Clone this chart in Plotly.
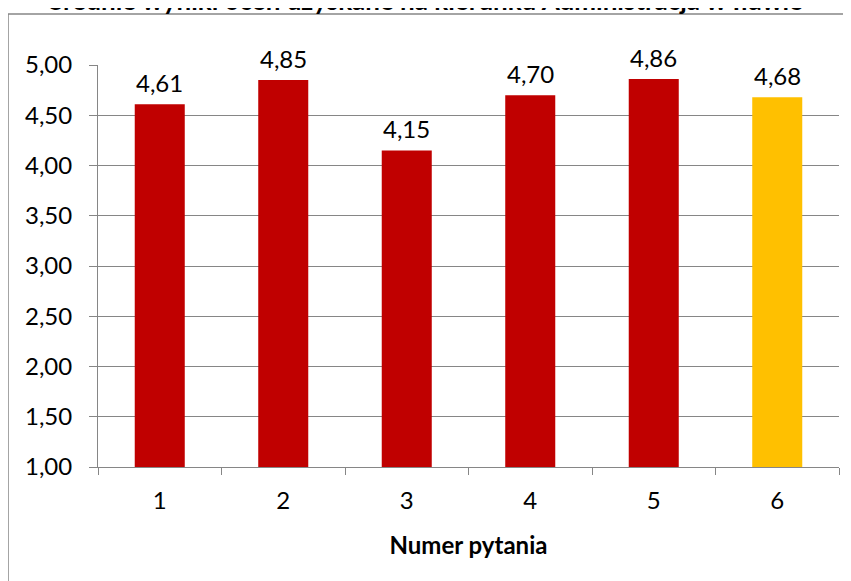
import plotly.graph_objects as go

categories = ["1", "2", "3", "4", "5", "6"]
values = [4.61, 4.85, 4.15, 4.70, 4.86, 4.68]
bar_colors = ["#C00000", "#C00000", "#C00000", "#C00000", "#C00000", "#FFC000"]
title_text = "Średnie wyniki ocen uzyskane na kierunku Administracja w Iławie"
x_title = "Numer pytania"
y_ticks = [1.0, 1.5, 2.0, 2.5, 3.0, 3.5, 4.0, 4.5, 5.0]

labels = [f"{v:.2f}".replace(".", ",") for v in values]
ytick_text = [f"{v:.2f}".replace(".", ",") for v in y_ticks]

FONT = "Lato, 'Open Sans', sans-serif"
# the page body has an 8px margin, so the figure is drawn 8px right/down
OFF = 8
W, H = 851 - OFF, 581 - OFF
L = 98 - OFF
R = W - (839 - OFF)
T = 65 - OFF
B = H - (467 - OFF)

fig = go.Figure(go.Bar(
    x=categories, y=values, marker=dict(color=bar_colors, line=dict(width=0)),
))

# category axis positions are the category indices
for i, (v, t) in enumerate(zip(values, labels)):
    fig.add_annotation(x=i, y=v, text=t, showarrow=False, yanchor="bottom",
                       yshift=5, font=dict(family=FONT, size=24, color="#000000"))

fig.update_layout(
    width=W, height=H, margin=dict(l=L, r=R, t=T, b=B),
    paper_bgcolor="white", plot_bgcolor="white",
    bargap=0.595, showlegend=False,
    font=dict(family=FONT, color="#000000"),
)
fig.update_xaxes(
    type="category", range=[-0.5, len(categories) - 0.5],
    tickson="boundaries", ticks="outside", ticklen=7,
    tickcolor="#868686", showline=True, linecolor="#868686", linewidth=1,
    tickfont=dict(family=FONT, size=24), ticklabelstandoff=12,
    title=dict(text=f"<b>{x_title}</b>", font=dict(family=FONT, size=24), standoff=24),
    showgrid=False,
)
fig.update_yaxes(
    range=[1, 5], tickvals=y_ticks, ticktext=ytick_text, ticks="outside", ticklen=8,
    tickcolor="#868686", showline=True, linecolor="#868686", linewidth=1,
    showgrid=True, gridcolor="#868686", gridwidth=1, zeroline=False,
    tickfont=dict(family=FONT, size=24), ticklabelstandoff=12,
)

pw, ph = W - L - R, H - T - B
def px_x(p): return (p - OFF - L) / pw
def px_y(p): return (H - B - (p - OFF)) / ph

fig.add_shape(type="rect", xref="paper", yref="paper",
              x0=px_x(8), x1=px_x(900), y0=px_y(640), y1=px_y(14),
              line=dict(color="#868686", width=1.5), fillcolor="rgba(0,0,0,0)", layer="below")

fig.add_annotation(text=f"<b>{title_text}</b>", xref="paper", yref="paper",
                   x=px_x(426), y=px_y(0), xanchor="center", yanchor="middle",
                   showarrow=False, font=dict(family=FONT, size=26, color="#000000"))

fig.write_html("out.html")
